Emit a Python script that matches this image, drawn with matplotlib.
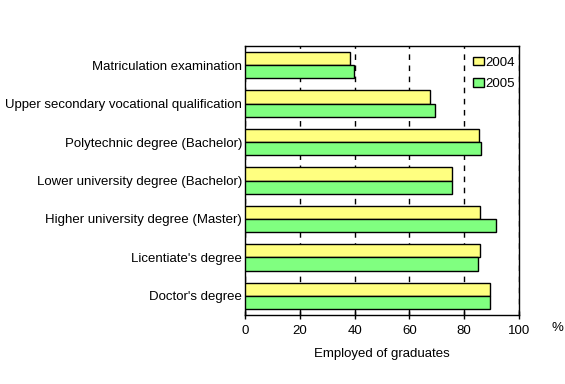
import matplotlib
matplotlib.use("Agg")
import matplotlib.pyplot as plt
import numpy as np

plt.rcParams['font.family'] = ['Liberation Sans', 'DejaVu Sans']
plt.rcParams['font.size'] = 9.5

# categories, top to bottom
categories = ["Matriculation examination",
              "Upper secondary vocational qualification",
              "Polytechnic degree (Bachelor)",
              "Lower university degree (Bachelor)",
              "Higher university degree (Master)",
              "Licentiate's degree",
              "Doctor's degree"]
vals_2004 = [38.5, 67.4, 85.3, 75.5, 85.7, 85.7, 89.4]
vals_2005 = [39.9, 69.2, 86.1, 75.5, 91.6, 85.0, 89.4]
xticks = [0, 20, 40, 60, 80, 100]

fig = plt.figure(figsize=(5.65, 3.84), dpi=100)
ax = fig.add_axes([245/565, 1 - 315/384, 274/565, 269/384])

y = np.arange(len(categories))
h = 0.345
ax.barh(y - h/2, vals_2004, height=h, color='#FFFF80', edgecolor='black', linewidth=1, label='2004', zorder=3)
ax.barh(y + h/2, vals_2005, height=h, color='#80FF80', edgecolor='black', linewidth=1, label='2005', zorder=3)

ax.set_ylim(len(categories) - 0.5, -0.5)
ax.set_xlim(0, 100)
ax.set_xticks(xticks)
ax.set_yticks(y)
ax.set_yticklabels(categories)
ax.tick_params(axis='y', length=0, pad=2)
ax.tick_params(axis='x', direction='inout', length=6, width=1, pad=4)
ax.xaxis.grid(True, linestyle=(0, (4, 4)), color='black', linewidth=1, zorder=0)
for s in ax.spines.values():
    s.set_linewidth(1)

ax.set_xlabel('Employed of graduates', labelpad=8)
fig.text(557/565, 1 - 328/384, '%', ha='center', va='center')

leg = ax.legend(loc='upper right', bbox_to_anchor=(1, 0.974), frameon=False,
                handlelength=0.85, handleheight=0.6, handletextpad=0.1,
                borderpad=0.2, borderaxespad=0.1, labelspacing=0.7)

fig.savefig('out.png', dpi=100)
